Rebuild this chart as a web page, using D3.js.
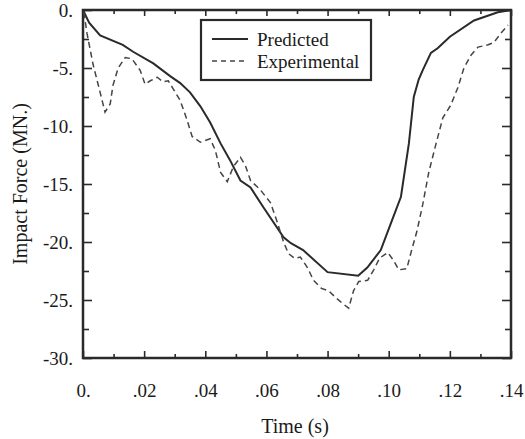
<!DOCTYPE html>
<html>
<head>
<meta charset="utf-8">
<script src="https://cdn.jsdelivr.net/npm/d3@7"></script>
<style>
  body { margin: 0; background: #fff; }
  svg { display: block; }
  text { font-family: "Liberation Serif", "Times New Roman", serif; fill: #1a1a1a; }
</style>
</head>
<body>
<div id="chart"></div>
<script>
// Predicted impact force (time in s, force in MN.)
const predTime = [0, .002, .0056, .013, .0164, .023, .0285, .0318, .035, .0384, .0416, .045, .048, .0515, .0548, .059, .0656, .068, .072, .080, .090, .093, .0974, .1007, .104, .1066, .1082, .1098, .1111, .1138, .116, .120, .1279, .1357, .14];
const predForce = [0, -1.1, -2.2, -3.0, -3.6, -4.6, -5.7, -6.3, -7.1, -8.3, -9.7, -11.5, -12.9, -14.7, -15.3, -17.0, -19.6, -20.1, -20.7, -22.6, -22.9, -22.2, -20.7, -18.4, -16.1, -11.5, -7.5, -6.0, -5.2, -3.7, -3.3, -2.3, -0.9, -0.2, 0];

// Experimental impact force
const expTime = [.0003, .0013, .0033, .0056, .0072, .0089, .0098, .0115, .0138, .016, .0187, .0203, .022, .0243, .0262, .0279, .0295, .0318, .0338, .0357, .0384, .0416, .0433, .045, .0472, .0492, .0515, .0531, .0548, .058, .0613, .0633, .0656, .0672, .0692, .0711, .0734, .0754, .078, .0803, .0823, .0849, .0869, .0885, .0902, .0931, .0951, .097, .0997, .1016, .1033, .1059, .1075, .1092, .1111, .1131, .1154, .1177, .1203, .1226, .1246, .1269, .1292, .1325, .1344, .1367, .139];
const expForce = [-0.2, -2.0, -4.7, -7.1, -8.8, -8.1, -6.5, -5.0, -4.1, -4.2, -5.2, -6.4, -6.1, -5.8, -6.2, -6.1, -6.8, -7.8, -9.3, -10.9, -11.4, -11.1, -12.1, -14.0, -14.8, -13.5, -12.7, -13.4, -14.7, -15.5, -16.6, -18.1, -20.0, -21.0, -21.4, -21.3, -22.2, -23.3, -24.0, -24.2, -24.7, -25.3, -25.7, -24.2, -23.4, -23.3, -22.4, -21.4, -20.9, -21.6, -22.4, -22.3, -20.7, -19.1, -16.8, -14.0, -11.6, -9.3, -8.2, -6.7, -5.0, -3.9, -3.2, -3.0, -2.8, -2.0, -1.3];

// Ticks and labels
const xTicks = [0, .02, .04, .06, .08, .10, .12, .14];
const xTickLabels = ["0.", ".02", ".04", ".06", ".08", ".10", ".12", ".14"];
const xMinor = [.01, .03, .05, .07, .09, .11, .13];
const yTicks = [0, -5, -10, -15, -20, -25, -30];
const yTickLabels = ["0.", "-5.", "-10.", "-15.", "-20.", "-25.", "-30."];
const yMinor = [-2.5, -7.5, -12.5, -17.5, -22.5, -27.5];

const seriesNames = ["Predicted", "Experimental"];

const margin = { top: 10, right: 14, bottom: 81, left: 83 };
const W = 525, H = 439;
const width = W - margin.left - margin.right;
const height = H - margin.top - margin.bottom;
const ink = "#2a2a2a";

const svg = d3.select("#chart").append("svg")
    .attr("width", W)
    .attr("height", H);

const g = svg.append("g")
    .attr("transform", `translate(${margin.left},${margin.top})`);

const x = d3.scaleLinear().domain([0, 0.14]).range([0, width]);
const y = d3.scaleLinear().domain([-30, 0]).range([height, 0]);

// Axes: ticks point inward on all four sides
function styleAxis(sel) {
    sel.select(".domain").remove();
    sel.selectAll(".tick line").attr("stroke", ink).attr("stroke-width", 1.6);
    sel.selectAll(".tick text").attr("font-size", 19).attr("fill", "#1a1a1a")
        .style("font-family", "'Liberation Serif', serif");
}

g.append("g")
    .attr("transform", `translate(0,${height})`)
    .call(d3.axisBottom(x).tickValues(xTicks).tickSizeInner(-7).tickPadding(26)
        .tickFormat((d, i) => xTickLabels[i]))
    .call(styleAxis);
g.append("g").attr("transform", `translate(0,${height})`)
    .call(d3.axisBottom(x).tickValues(xMinor).tickSizeInner(-4).tickFormat(""))
    .call(styleAxis);

g.append("g")
    .call(d3.axisTop(x).tickValues(xTicks).tickSizeInner(-6).tickFormat(""))
    .call(styleAxis);
g.append("g")
    .call(d3.axisTop(x).tickValues(xMinor).tickSizeInner(-4).tickFormat(""))
    .call(styleAxis);

g.append("g")
    .call(d3.axisLeft(y).tickValues(yTicks).tickSizeInner(-9).tickPadding(10)
        .tickFormat((d, i) => yTickLabels[i]))
    .call(styleAxis);
g.append("g")
    .call(d3.axisLeft(y).tickValues(yMinor).tickSizeInner(-6).tickFormat(""))
    .call(styleAxis);

g.append("g").attr("transform", `translate(${width},0)`)
    .call(d3.axisRight(y).tickValues(yTicks).tickSizeInner(-9).tickFormat(""))
    .call(styleAxis);
g.append("g").attr("transform", `translate(${width},0)`)
    .call(d3.axisRight(y).tickValues(yMinor).tickSizeInner(-6).tickFormat(""))
    .call(styleAxis);

// Frame
g.append("rect")
    .attr("width", width)
    .attr("height", height)
    .attr("fill", "none")
    .attr("stroke", ink)
    .attr("stroke-width", 2.5);

// Lines
const line = d3.line()
    .x(d => x(d[0]))
    .y(d => y(d[1]));

g.append("path")
    .datum(predTime.map((t, i) => [t, predForce[i]]))
    .attr("fill", "none")
    .attr("stroke", ink)
    .attr("stroke-width", 2)
    .attr("d", line);

g.append("path")
    .datum(expTime.map((t, i) => [t, expForce[i]]))
    .attr("fill", "none")
    .attr("stroke", "#444")
    .attr("stroke-width", 1.5)
    .attr("stroke-dasharray", "6,4")
    .attr("d", line);

// Legend
const legend = svg.append("g").attr("transform", "translate(201,20)");
legend.append("rect")
    .attr("width", 170)
    .attr("height", 60)
    .attr("fill", "#fff")
    .attr("stroke", ink)
    .attr("stroke-width", 2.2);

seriesNames.forEach((name, i) => {
    const yy = 19 + i * 22;
    legend.append("line")
        .attr("x1", 11).attr("x2", 47)
        .attr("y1", yy).attr("y2", yy)
        .attr("stroke", i === 0 ? ink : "#444")
        .attr("stroke-width", i === 0 ? 2 : 1.5)
        .attr("stroke-dasharray", i === 0 ? null : "5,4");
    legend.append("text")
        .attr("x", 56)
        .attr("y", yy + 7)
        .attr("font-size", 19)
        .text(name);
});

// Axis titles
svg.append("text")
    .attr("x", margin.left + width / 2 - 2)
    .attr("y", 433)
    .attr("text-anchor", "middle")
    .attr("font-size", 20)
    .text("Time (s)");

svg.append("text")
    .attr("transform", "rotate(-90)")
    .attr("x", -184)
    .attr("y", 27)
    .attr("text-anchor", "middle")
    .attr("font-size", 20)
    .text("Impact Force (MN.)");
</script>
</body>
</html>
